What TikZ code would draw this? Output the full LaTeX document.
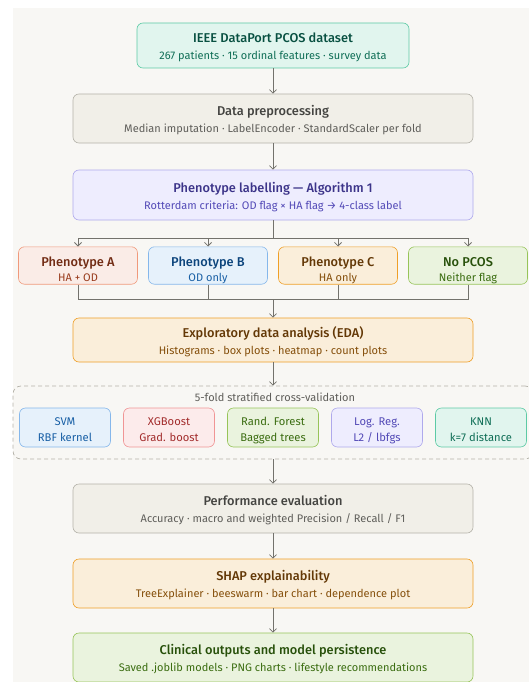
\documentclass[tikz,border=0pt]{standalone}
\usepackage{fontspec}
\IfFontExistsTF{Fira Sans Medium}{\setmainfont{Fira Sans}[BoldFont={Fira Sans Medium}]}{\setmainfont{Fira Sans}}
\usetikzlibrary{arrows.meta}
\definecolor{bg}{HTML}{F8F7F4}
\definecolor{ln}{HTML}{73726C}
% teal
\definecolor{tealF}{HTML}{E1F5EE}\definecolor{tealD}{HTML}{5DCAA5}\definecolor{tealT}{HTML}{085041}\definecolor{tealS}{HTML}{0F6E56}
% gray
\definecolor{grayF}{HTML}{F1EFE8}\definecolor{grayD}{HTML}{B4B2A9}\definecolor{grayT}{HTML}{444441}\definecolor{grayS}{HTML}{5F5E5A}
% purple
\definecolor{purF}{HTML}{EEEDFE}\definecolor{purD}{HTML}{AFA9EC}\definecolor{purT}{HTML}{3C3489}\definecolor{purS}{HTML}{534AB7}
% coral
\definecolor{corF}{HTML}{FAECE7}\definecolor{corD}{HTML}{F0997B}\definecolor{corT}{HTML}{712B13}\definecolor{corS}{HTML}{993C1D}
% blue
\definecolor{bluF}{HTML}{E6F1FB}\definecolor{bluD}{HTML}{85B7EB}\definecolor{bluT}{HTML}{0C447C}\definecolor{bluS}{HTML}{185FA5}
% amber
\definecolor{ambF}{HTML}{FAEEDA}\definecolor{ambD}{HTML}{EF9F27}\definecolor{ambT}{HTML}{633806}\definecolor{ambS}{HTML}{854F0B}
% green
\definecolor{grnF}{HTML}{EAF3DE}\definecolor{grnD}{HTML}{97C459}\definecolor{grnT}{HTML}{27500A}\definecolor{grnS}{HTML}{3B6D11}
% red
\definecolor{redF}{HTML}{FCEBEB}\definecolor{redD}{HTML}{F09595}\definecolor{redT}{HTML}{A32D2D}
\newcommand{\ttl}{\fontsize{12.8}{14}\selectfont\bfseries\rule{0pt}{14pt}}
\newcommand{\ttlp}{\fontsize{12.8}{14}\selectfont\bfseries\rule{0pt}{19.4pt}}
\newcommand{\sbt}{\fontsize{11}{12}\selectfont\rule[-3pt]{0pt}{3pt}}
\newcommand{\mdl}[2]{\rule{0pt}{14.8pt}#1\\#2\rule[-3pt]{0pt}{3pt}}
\tikzset{
  box/.style={draw, rounded corners=6pt, line width=0.6pt, align=center, inner sep=0pt,
    font=\fontsize{11}{17}\selectfont},
  wide/.style={box, minimum width=400pt},
  pheno/.style={box, minimum width=119pt, minimum height=35pt, font=\fontsize{11}{15}\selectfont},
  model/.style={box, minimum width=91pt, minimum height=39pt, font=\fontsize{11.2}{15.6}\selectfont},
  arr/.style={draw=ln, line width=0.8pt, -{Straight Barb[length=3.5pt,width=7pt]}},
  con/.style={draw=ln, line width=0.8pt},
  teal/.style={fill=tealF, draw=tealD},
  gry/.style={fill=grayF, draw=grayD},
  pur/.style={fill=purF, draw=purD},
  cor/.style={fill=corF, draw=corD},
  blu/.style={fill=bluF, draw=bluD},
  amb/.style={fill=ambF, draw=ambD},
  grn/.style={fill=grnF, draw=grnD},
  red/.style={fill=redF, draw=redD},
}
\begin{document}
\begin{tikzpicture}[x=1pt,y=-1pt]
\clip (0,0) rectangle (529,682);
\fill[bg] (13,8) rectangle (540,700);

\node[box, teal, minimum width=272pt, minimum height=45pt] (src) at (273,45.5)
  {\color{tealT}{\ttl IEEE DataPort PCOS dataset}\\\color{tealS}{\sbt 267 patients · 15 ordinal features · survey data}};
\node[wide, gry, minimum height=49pt] (prep) at (273,118.5)
  {\color{grayT}{\ttl Data preprocessing}\\\color{grayS}{\sbt Median imputation · LabelEncoder · StandardScaler per fold}};
\node[wide, pur, minimum height=50pt] (lab) at (273,195)
  {\color{purT}{\ttl Phenotype labelling — Algorithm 1}\\\color{purS}{\sbt Rotterdam criteria: OD flag × HA flag → 4-class label}};

\node[pheno, cor] (pa) at (78,265.5) {\color{corT}{\ttlp Phenotype A}\\\color{corS}{\sbt HA + OD}};
\node[pheno, blu] (pb) at (208,265.5) {\color{bluT}{\ttlp Phenotype B}\\\color{bluS}{\sbt OD only}};
\node[pheno, amb] (pc) at (338,265.5) {\color{ambT}{\ttlp Phenotype C}\\\color{ambS}{\sbt HA only}};
\node[pheno, grn] (pn) at (468,265.5) {\color{grnT}{\ttlp No PCOS}\\\color{grnS}{\sbt Neither flag}};

\node[wide, amb, minimum height=44pt] (eda) at (273,340)
  {\color{ambT}{\ttl Exploratory data analysis (EDA)}\\\color{ambS}{\sbt Histograms · box plots · heatmap · count plots}};

\node[draw=grayD, dashed, dash pattern=on 4pt off 3pt, line width=0.7pt, rounded corners=8pt,
  minimum width=520pt, minimum height=73pt, inner sep=0pt] (cv) at (273,422.5) {};
\node[text=grayS, font=\fontsize{11}{12}\selectfont] (cvt) at (275,397.5) {5-fold stratified cross-validation};

\node[model, blu, text=bluS] (svm) at (65,427.5) {\mdl{SVM}{RBF kernel}};
\node[model, red, text=redT] (xgb) at (169,427.5) {\mdl{XGBoost}{Grad. boost}};
\node[model, grn, text=grnS] (rf) at (273,427.5) {\mdl{Rand. Forest}{Bagged trees}};
\node[model, pur, text=purS] (lr) at (377,427.5) {\mdl{Log. Reg.}{L2 / lbfgs}};
\node[model, teal, text=tealS] (knn) at (481,427.5) {\mdl{KNN}{k=7 distance}};

\node[wide, gry, minimum height=49pt] (perf) at (273,508.5)
  {\color{grayT}{\ttl Performance evaluation}\\\color{grayS}{\sbt Accuracy · macro and weighted Precision / Recall / F1}};
\node[wide, amb, minimum height=49pt] (shap) at (273,583.5)
  {\color{ambT}{\ttl SHAP explainability}\\\color{ambS}{\sbt TreeExplainer · beeswarm · bar chart · dependence plot}};
\node[wide, grn, minimum height=49pt] (clin) at (273,657.5)
  {\color{grnT}{\ttl Clinical outputs and model persistence}\\\color{grnS}{\sbt Saved .joblib models · PNG charts · lifestyle recommendations}};

\coordinate (br) at (273,238);
\coordinate (mg) at (273,299);
\draw[arr] (src) -- (prep);
\draw[arr] (prep) -- (lab);
\draw[con] (lab.south) -- (br);
\foreach \p in {pa,pb,pc,pn} \draw[arr] (br) -| (\p.north);
\foreach \p in {pa,pb,pc,pn} \draw[con] (\p.south) |- (mg);
\draw[arr] (mg) -- (eda.north);
\draw[arr] (eda) -- (cv);
\draw[arr] (cv) -- (perf);
\draw[arr] (perf) -- (shap);
\draw[arr] (shap) -- (clin);
\end{tikzpicture}
\end{document}
